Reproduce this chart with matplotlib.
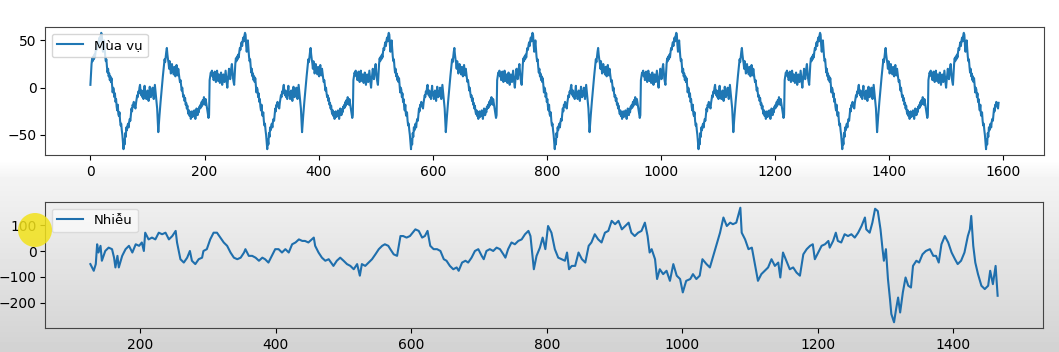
import numpy as np
import matplotlib
matplotlib.use("Agg")
import matplotlib.pyplot as plt
from matplotlib.patches import Ellipse

# ---------------- data ----------------
n_obs = 1593
period = 252

# one period of the seasonal component
seasonal_period = [
    3, 15, 25, 31, 28, 33, 30, 35, 32, 38, 42, 40,
    45, 48, 44, 50, 53, 49, 55, 58, 56, 45, 38, 44,
    50, 42, 33, 28, 30, 22, 16, 20, 12, 15, 8, 12,
    6, 10, 2, -5, 0, -2, -10, -6, -15, -12, -20, -24,
    -18, -28, -30, -26, -35, -40, -38, -45, -50, -58, -65, -55,
    -60, -48, -52, -42, -45, -40, -38, -42, -36, -33, -35, -28,
    -22, -25, -18, -20, -15, -18, -20, -22, -16, -12, -8, -10,
    -4, -6, 0, 3, -5, -8, -3, -10, -6, -12, -4, 2,
    -8, -5, -12, -7, -3, -9, -14, -6, 1, -5, -10, -4,
    -8, 0, -6, -12, -5, 3, -3, -9, -15, -22, -35, -47,
    -38, -30, -22, -15, -8, 0, 6, 12, 18, 25, 30, 27,
    33, 38, 42, 35, 30, 26, 20, 28, 22, 15, 18, 25,
    17, 20, 14, 22, 18, 12, 20, 24, 16, 13, 20, 15,
    10, 6, 8, 2, -3, 0, -6, -10, -8, -14, -11, -18,
    -16, -22, -19, -25, -28, -24, -30, -26, -33, -29, -25, -31,
    -27, -30, -24, -28, -33, -27, -22, -25, -29, -23, -26, -20,
    -22, -18, -21, -15, -19, -13, -17, -10, -14, -18, -12, -16,
    -20, -24, -28, -32, -29, 8, 12, 16, 14, 18, 12, 15,
    8, 13, 17, 10, 6, 12, 18, 11, 7, 14, 9, 5,
    12, 16, 10, 3, 8, 14, 10, 6, 12, 18, 11, 5,
    0, 8, 14, 20, 15, 9, 14, 21, 25, 17, 10, 6,
]

# residual component, read at irregular positions (day index, value)
resid_x = [
    126, 131, 134, 136, 138, 141, 143, 148, 153, 158, 161, 163, 166, 168, 173,
    178, 183, 188, 193, 198, 202, 205, 207, 212, 217, 222, 227, 232, 237, 242,
    247, 252, 254, 259, 264, 269, 273, 276, 281, 286, 291, 293, 298, 303, 308,
    313, 318, 323, 328, 333, 338, 343, 348, 353, 355, 360, 365, 370, 375, 380,
    384, 389, 394, 399, 404, 409, 414, 419, 424, 429, 434, 439, 443, 448, 453,
    456, 458, 463, 468, 473, 478, 485, 490, 495, 500, 505, 510, 515, 520, 524,
    527, 532, 537, 542, 547, 552, 557, 561, 566, 569, 574, 579, 584, 588, 593,
    598, 606, 611, 616, 620, 624, 628, 633, 638, 643, 648, 652, 657, 662, 667,
    670, 675, 680, 684, 689, 694, 699, 704, 707, 711, 716, 721, 726, 731, 736,
    739, 743, 748, 753, 758, 763, 768, 773, 776, 779, 781, 785, 790, 794, 798,
    802, 807, 812, 817, 822, 827, 830, 833, 837, 842, 847, 852, 857, 862, 866,
    871, 876, 881, 886, 891, 896, 901, 906, 911, 916, 921, 925, 930, 935, 940,
    945, 949, 952, 955, 960, 963, 967, 972, 977, 982, 987, 992, 997, 1001, 1006,
    1012, 1016, 1021, 1026, 1030, 1036, 1041, 1046, 1051, 1056, 1061, 1066, 1071, 1075, 1080,
    1084, 1086, 1088, 1093, 1098, 1103, 1107, 1112, 1117, 1122, 1127, 1132, 1137, 1142, 1145,
    1149, 1154, 1159, 1164, 1169, 1174, 1179, 1184, 1189, 1193, 1196, 1201, 1206, 1211, 1216,
    1218, 1223, 1227, 1230, 1235, 1240, 1245, 1250, 1255, 1260, 1265, 1270, 1272, 1277, 1281,
    1285, 1289, 1293, 1296, 1298, 1301, 1304, 1307, 1309, 1313, 1316, 1319, 1322, 1326, 1330,
    1334, 1338, 1341, 1346, 1350, 1355, 1360, 1366, 1371, 1375, 1379, 1383, 1388, 1393, 1398,
    1403, 1407, 1412, 1417, 1422, 1425, 1427, 1430, 1433, 1437, 1442, 1447, 1452, 1455, 1459,
    1463, 1466,
]
resid_y = [
    -50, -76, -50, 27, -5, 21, -37, 1, 14, 8, -25, -63, -18, -63, -18,
    8, 21, -5, 27, 21, 34, 1, 72, 46, 53, 46, 72, 66, 72, 46,
    59, 79, 34, -31, -44, -25, 1, -37, -50, -31, -25, 1, 8, 46, 72,
    72, 53, 34, 21, -5, -25, -31, -25, -5, 8, -18, -18, -25, -37, -25,
    -31, -44, -18, 8, 8, -5, 8, -5, 27, 34, 46, 40, 40, 34, 46,
    53, 21, -5, -25, -37, -31, -57, -37, -25, -37, -50, -57, -70, -50, -95,
    -50, -57, -44, -31, -12, 8, 21, 27, 21, 8, -12, -18, 59, 59, 53,
    59, 85, 79, 53, 59, 79, 21, 8, 8, 1, -31, -37, -57, -70, -63,
    -76, -44, -37, -44, -25, 1, 8, -18, -31, 1, 8, 1, 14, 8, -12,
    -25, 8, 34, 27, 40, 46, 66, 79, 59, -18, -70, -18, 14, 53, 8,
    98, 72, 8, -25, -31, -37, -5, -70, -57, -57, -5, -31, -44, 21, 34,
    66, 46, 34, 72, 79, 118, 105, 118, 85, 98, 111, 72, 59, 72, 79,
    111, 59, -5, 8, -31, -108, -70, -89, -76, -115, -50, -95, -108, -160, -115,
    -108, -89, -108, -95, -31, -50, -63, -18, 27, 72, 131, 98, 111, 105, 111,
    150, 169, 72, 46, 8, 14, -44, -115, -89, -76, -63, -31, -57, -44, -102,
    -5, -37, -70, -63, -83, -95, -12, 8, 21, 27, -31, -5, 21, 27, 40,
    14, 40, 72, 40, 34, 66, 59, 66, 53, 72, 98, 131, 85, 72, 111,
    165, 156, 85, 8, -37, 8, -108, -186, -244, -276, -225, -180, -238, -160, -102,
    -134, -141, -57, -37, -44, -12, 1, 8, -18, -18, -44, 27, 59, 34, -5,
    -31, -50, -37, -5, 59, 85, 137, 21, -44, -89, -134, -147, -134, -76, -128,
    -57, -173,
]

seasonal_label = "Mùa vụ"
resid_label = "Nhiễu"

# ---------------- figure ----------------
W, H = 1059, 352
fig = plt.figure(figsize=(W / 100, H / 100), dpi=100)
fig.patch.set_facecolor("white")

# screenshot-like background: white top, grey gradient lower half
bg = fig.add_axes([0, 0, 1, 1], zorder=-10)
rows = np.linspace(0, 1, H)
vals = np.ones(H)
start = 178 / H
mask = rows > start
t = (rows[mask] - start) / (1 - start)
vals[mask] = 0.955 - 0.13 * t
fade = (rows > 160 / H) & (rows <= start)
vals[fade] = 1.0 - 0.045 * (rows[fade] - 160 / H) / (start - 160 / H)
bg.imshow(vals[:, None] * np.ones((1, 4)), cmap="gray", vmin=0, vmax=1,
          aspect="auto", extent=[0, 1, 0, 1], origin="upper")
bg.set_axis_off()

seasonal = np.tile(np.asarray(seasonal_period, dtype=float),
                   n_obs // period + 1)[:n_obs]
x_seas = np.arange(n_obs)

ax1 = fig.add_axes([45 / W, 1 - 155 / H, (1044 - 45) / W, 128 / H])
ax1.plot(x_seas, seasonal, color="#1f77b4", lw=1.5, label=seasonal_label)
ax1.legend(loc="upper left", fontsize=9.5)
ax1.set_xticks([0, 200, 400, 600, 800, 1000, 1200, 1400, 1600])
ax1.set_yticks([-50, 0, 50])

ax2 = fig.add_axes([45 / W, 1 - 328 / H, (1043 - 45) / W, 126 / H])
ax2.set_facecolor("none")
ax2.plot(resid_x, resid_y, color="#1f6fad", lw=1.5, label=resid_label)
ax2.legend(loc="upper left", fontsize=9.5, framealpha=0.6)
ax2.set_xticks([200, 400, 600, 800, 1000, 1200, 1400])
ax2.set_yticks([-200, -100, 0, 100])

for ax in (ax1, ax2):
    ax.tick_params(labelsize=10)
    ax.tick_params(axis="y", pad=2.5)
    for s in ax.spines.values():
        s.set_color("#444444")

# cursor highlight seen in the screenshot
fig.patches.append(Ellipse((35 / W, 1 - 230 / H), 34 / W, 34 / H,
                           transform=fig.transFigure, facecolor="#f2e21a",
                           alpha=0.85, edgecolor="none", figure=fig, zorder=5))

fig.savefig("out.png", dpi=100)
